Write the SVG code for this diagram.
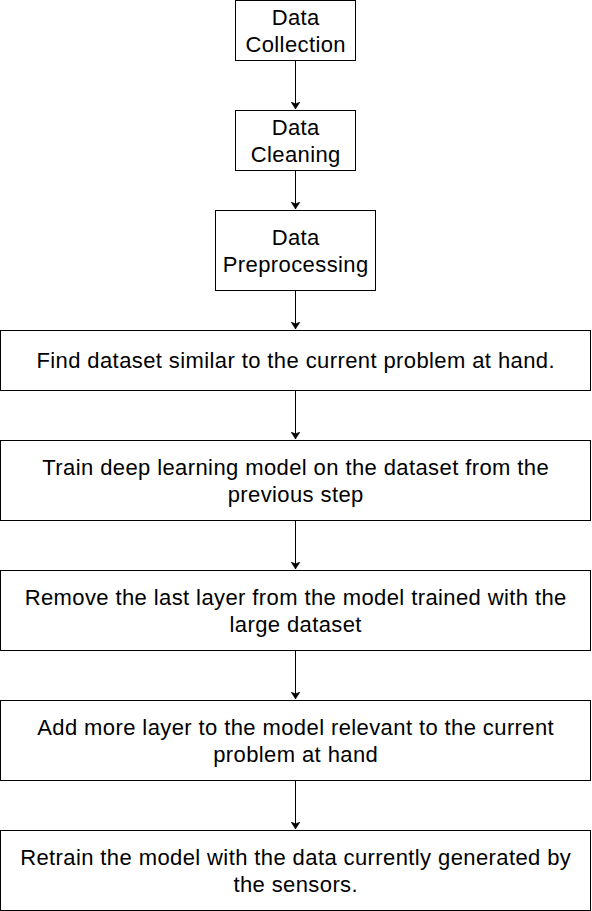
<svg xmlns="http://www.w3.org/2000/svg" width="592" height="911" viewBox="0 0 592 911">
<style>
.box{fill:#fff;stroke:#000;stroke-width:1}
.t{font-family:"Liberation Sans",Arial,sans-serif;font-size:22px;letter-spacing:0.4px;fill:#000;text-anchor:middle}
.c{stroke:#000;stroke-width:1;fill:none}
</style>
<defs>
<marker id="ah" markerWidth="8" markerHeight="10" refX="7" refY="5" orient="auto" markerUnits="userSpaceOnUse">
<path d="M0,0.5 L7,5 L0,9.5 L1.8,5 Z" fill="#000" stroke="#000" stroke-width="0.5"/>
</marker>
</defs>
<rect width="592" height="911" fill="#fff"/>
<g id="connectors">
<path class="c" d="M295.5,60.5 V109" marker-end="url(#ah)"/>
<path class="c" d="M295.5,170.5 V209" marker-end="url(#ah)"/>
<path class="c" d="M295.5,290.5 V329" marker-end="url(#ah)"/>
<path class="c" d="M295.5,390.5 V439" marker-end="url(#ah)"/>
<path class="c" d="M295.5,520.5 V569" marker-end="url(#ah)"/>
<path class="c" d="M295.5,650.5 V699" marker-end="url(#ah)"/>
<path class="c" d="M295.5,780.5 V829" marker-end="url(#ah)"/>
</g>
<g id="n1">
<rect class="box" x="235.5" y="0.5" width="120" height="60"/>
<text class="t" x="295.7" y="25">Data</text>
<text class="t" x="295.7" y="51.5">Collection</text>
</g>
<g id="n2">
<rect class="box" x="235.5" y="110.5" width="120" height="60"/>
<text class="t" x="295.7" y="135">Data</text>
<text class="t" x="295.7" y="161.5">Cleaning</text>
</g>
<g id="n3">
<rect class="box" x="215.5" y="210.5" width="160" height="80"/>
<text class="t" x="295.7" y="245">Data</text>
<text class="t" x="295.7" y="271.5">Preprocessing</text>
</g>
<g id="n4">
<rect class="box" x="0.5" y="330.5" width="590" height="60"/>
<text class="t" x="295.7" y="368">Find dataset similar to the current problem at hand.</text>
</g>
<g id="n5">
<rect class="box" x="0.5" y="440.5" width="590" height="80"/>
<text class="t" x="295.7" y="475">Train deep learning model on the dataset from the</text>
<text class="t" x="295.7" y="501.5">previous step</text>
</g>
<g id="n6">
<rect class="box" x="0.5" y="570.5" width="590" height="80"/>
<text class="t" x="295.7" y="605">Remove the last layer from the model trained with the</text>
<text class="t" x="295.7" y="631.5">large dataset</text>
</g>
<g id="n7">
<rect class="box" x="0.5" y="700.5" width="590" height="80"/>
<text class="t" x="295.7" y="735">Add more layer to the model relevant to the current</text>
<text class="t" x="295.7" y="761.5">problem at hand</text>
</g>
<g id="n8">
<rect class="box" x="0.5" y="830.5" width="590" height="80"/>
<text class="t" x="295.7" y="865">Retrain the model with the data currently generated by</text>
<text class="t" x="295.7" y="891.5">the sensors.</text>
</g>
</svg>
